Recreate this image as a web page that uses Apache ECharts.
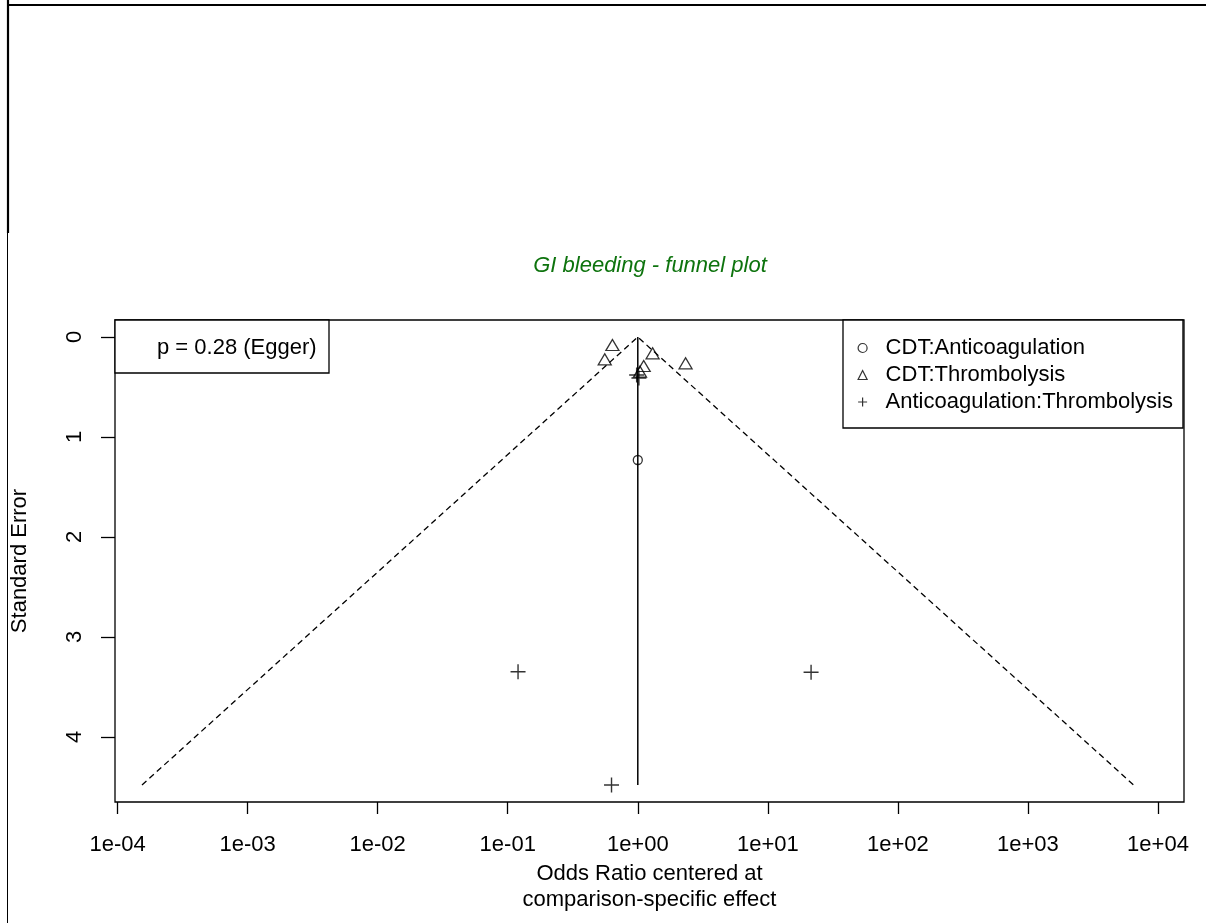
<!DOCTYPE html>
<html>
<head>
<meta charset="utf-8">
<title>GI bleeding - funnel plot</title>
<script src="https://cdn.jsdelivr.net/npm/echarts@6/dist/echarts.min.js"></script>
<style>
  html, body { margin: 0; padding: 0; background: #fff; }
  #chart { width: 1206px; height: 923px; }
</style>
</head>
<body>
<div id="chart"></div>
<script>
// Comparison-adjusted funnel plot: odds ratios (log scale) against standard error.
const chartTitle = 'GI bleeding - funnel plot';
const eggerText = 'p = 0.28 (Egger)';
const seriesNames = ['CDT:Anticoagulation', 'CDT:Thrombolysis', 'Anticoagulation:Thrombolysis'];

// Studies per comparison: centred odds ratio and its standard error
const cdtAnticoagOR = [1.0];
const cdtAnticoagSE = [1.23];
const cdtThrombOR = [0.638, 0.557, 1.30, 2.33, 1.11, 1.04];
const cdtThrombSE = [0.08, 0.223, 0.163, 0.263, 0.29, 0.347];
const anticoagThrombOR = [0.98, 1.02, 0.12, 21.5, 0.628];
const anticoagThrombSE = [0.38, 0.41, 3.347, 3.353, 4.48];

// Pseudo 95% confidence funnel and the reference line at OR = 1
const funnelOR = [1.54e-4, 1, 6.5e3];
const funnelSE = [4.48, 0, 4.48];
const refOR = [1, 1];
const refSE = [0, 4.48];

// Axis ticks
const xTickValues = [1e-4, 1e-3, 1e-2, 1e-1, 1, 1e1, 1e2, 1e3, 1e4];
const xTickLabels = ['1e-04', '1e-03', '1e-02', '1e-01', '1e+00', '1e+01', '1e+02', '1e+03', '1e+04'];
const yTickValues = [0, 1, 2, 3, 4];

const FONT = 'Liberation Sans, Arial, sans-serif';

// x is plotted as log10(OR) on a value axis
const toPoints = (ors, ses) => ors.map((v, i) => [Math.log10(v), ses[i]]);
const xTickLogs = xTickValues.map(v => Math.log10(v));

const chart = echarts.init(document.getElementById('chart'), null, { renderer: 'canvas' });

const hollow = { color: 'rgba(0,0,0,0)', borderColor: '#000', borderWidth: 1.3 };

chart.setOption({
  backgroundColor: '#fff',
  animation: false,
  title: {
    text: chartTitle,
    left: 650,
    top: 255,
    textAlign: 'center',
    padding: 0,
    textStyle: { fontFamily: FONT, fontSize: 22, fontStyle: 'italic', fontWeight: 'normal', color: '#0d730d' }
  },
  grid: {
    left: 115, top: 320, width: 1069, height: 482,
    show: true, borderColor: '#000', borderWidth: 1.3, backgroundColor: 'rgba(0,0,0,0)'
  },
  xAxis: {
    type: 'value',
    position: 'bottom',
    min: -4.02,
    max: 4.2,
    name: 'Odds Ratio centered at\ncomparison-specific effect',
    nameLocation: 'middle',
    nameGap: 58,
    nameTextStyle: { fontFamily: FONT, fontSize: 22, color: '#000', lineHeight: 26 },
    axisLine: { show: false, onZero: false },
    splitLine: { show: false },
    axisTick: { show: true, inside: false, length: 12, customValues: xTickLogs, lineStyle: { color: '#000', width: 1.3 } },
    axisLabel: {
      customValues: xTickLogs,
      margin: 32,
      fontFamily: FONT, fontSize: 22, color: '#000',
      formatter: v => {
        const i = xTickLogs.findIndex(t => Math.abs(t - v) < 1e-6);
        return i >= 0 ? xTickLabels[i] : '';
      }
    }
  },
  yAxis: {
    type: 'value',
    position: 'left',
    inverse: true,
    min: -0.17,
    max: 4.65,
    name: 'Standard Error',
    nameLocation: 'middle',
    nameRotate: 90,
    nameGap: 84,
    nameTextStyle: { fontFamily: FONT, fontSize: 22, color: '#000' },
    axisLine: { show: false, onZero: false },
    splitLine: { show: false },
    axisTick: { show: true, inside: false, length: 14, customValues: yTickValues, lineStyle: { color: '#000', width: 1.3 } },
    axisLabel: {
      customValues: yTickValues,
      rotate: 90,
      margin: 29,
      fontFamily: FONT, fontSize: 22, color: '#000'
    }
  },
  legend: {
    data: seriesNames,
    orient: 'vertical',
    left: 843,
    top: 320,
    padding: [17, 10, 15, 14.5],
    itemGap: 5,
    itemWidth: 9,
    itemHeight: 9,
    borderColor: '#000',
    borderWidth: 1.3,
    backgroundColor: '#fff',
    borderRadius: 0,
    itemStyle: { color: 'rgba(0,0,0,0)', borderColor: '#000', borderWidth: 1.2 },
    textStyle: { fontFamily: FONT, fontSize: 22, color: '#000', lineHeight: 22, padding: [0, 0, 0, 13.5] },
    selectedMode: false
  },
  series: [
    {
      name: 'funnel',
      type: 'line',
      data: toPoints(funnelOR, funnelSE),
      symbol: 'none',
      silent: true,
      lineStyle: { color: '#000', width: 1.3, type: [6, 4] },
      z: 1
    },
    {
      name: 'reference',
      type: 'line',
      data: toPoints(refOR, refSE),
      symbol: 'none',
      silent: true,
      lineStyle: { color: '#000', width: 1.5 },
      z: 1
    },
    {
      name: seriesNames[0],
      type: 'scatter',
      data: toPoints(cdtAnticoagOR, cdtAnticoagSE),
      symbol: 'circle',
      symbolSize: 9,
      itemStyle: hollow,
      z: 3
    },
    {
      name: seriesNames[1],
      type: 'scatter',
      data: toPoints(cdtThrombOR, cdtThrombSE),
      symbol: 'triangle',
      symbolSize: [13, 11],
      itemStyle: hollow,
      z: 3
    },
    {
      name: seriesNames[2],
      type: 'scatter',
      data: toPoints(anticoagThrombOR, anticoagThrombSE),
      symbol: 'path://M0,5L10,5M5,0L5,10',
      symbolSize: 15,
      itemStyle: { color: 'rgba(0,0,0,0)', borderColor: '#000', borderWidth: 1.4 },
      z: 3
    }
  ],
  graphic: [
    // Egger test box in the upper-left corner of the plot
    {
      type: 'rect',
      shape: { x: 115, y: 320, width: 214, height: 53 },
      style: { fill: '#fff', stroke: '#000', lineWidth: 1.3 },
      z: 10
    },
    {
      type: 'text',
      x: 157, y: 348,
      style: { text: eggerText, fontFamily: FONT, fontSize: 22, fill: '#000', verticalAlign: 'middle' },
      z: 11
    },
    // Outer frame lines
    { type: 'line', shape: { x1: 7, y1: 5, x2: 1206, y2: 5 }, style: { stroke: '#000', lineWidth: 2.2 }, z: 10 },
    { type: 'line', shape: { x1: 8, y1: 0, x2: 8, y2: 233 }, style: { stroke: '#000', lineWidth: 2.2 }, z: 10 },
    { type: 'line', shape: { x1: 7.5, y1: 233, x2: 7.5, y2: 923 }, style: { stroke: '#000', lineWidth: 1 }, z: 10 }
  ]
});
</script>
</body>
</html>
